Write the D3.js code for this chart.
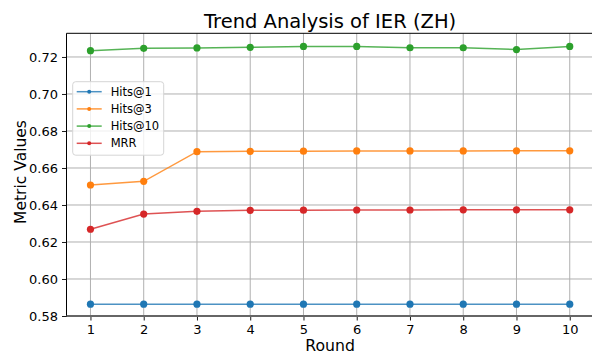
<!DOCTYPE html>
<html>
<head>
<meta charset="utf-8">
<script src="https://cdn.jsdelivr.net/npm/d3@7"></script>
<style>
    body { margin: 0; background: #fff; }
    svg { display: block; font-family: "DejaVu Sans", sans-serif; }
</style>
</head>
<body>
<div id="chart"></div>
<script>
// rounds on the x axis
let rounds = [1, 2, 3, 4, 5, 6, 7, 8, 9, 10];

// metric values
let hits1  = [0.5864, 0.5864, 0.5864, 0.5864, 0.5864, 0.5864, 0.5864, 0.5864, 0.5864, 0.5864];
let hits3  = [0.6508, 0.6528, 0.6688, 0.6690, 0.6691, 0.6692, 0.6692, 0.6692, 0.6693, 0.6693];
let hits10 = [0.7234, 0.7247, 0.7249, 0.7252, 0.7257, 0.7257, 0.7250, 0.7250, 0.7240, 0.7257];
let mrr    = [0.6269, 0.6351, 0.6366, 0.6371, 0.6372, 0.6373, 0.6373, 0.6374, 0.6374, 0.6374];

let seriesNames = ["Hits@1", "Hits@3", "Hits@10", "MRR"];
let seriesColors = ["#1f77b4", "#ff7f0e", "#2ca02c", "#d62728"];
let yTicks = [0.58, 0.60, 0.62, 0.64, 0.66, 0.68, 0.70, 0.72];

let series = [hits1, hits3, hits10, mrr].map((vals, i) => ({
    name: seriesNames[i],
    color: seriesColors[i],
    points: vals.map((v, j) => ({ x: rounds[j], y: v }))
}));

const width = 592, height = 354;
const plot = { left: 66.5, top: 33.3, right: 593.7, bottom: 316 };

var svg = d3.select("#chart")
    .append("svg")
    .attr("width", width)
    .attr("height", height);

var x = d3.scaleLinear().domain([0.55, 10.45]).range([plot.left, plot.right]);
var y = d3.scaleLinear().domain([0.58, 0.7328]).range([plot.bottom, plot.top]);

// grid
const grid = svg.append("g");
grid.selectAll("line.vx")
    .data(rounds)
    .enter()
    .append("line")
    .attr("x1", d => x(d)).attr("x2", d => x(d))
    .attr("y1", plot.top).attr("y2", plot.bottom)
    .style("stroke", "#b0b0b0")
    .style("stroke-width", 1);

grid.selectAll("line.hy")
    .data(yTicks)
    .enter()
    .append("line")
    .attr("x1", plot.left).attr("x2", plot.right)
    .attr("y1", d => y(d)).attr("y2", d => y(d))
    .style("stroke", "#b0b0b0")
    .style("stroke-width", 1);

// lines + markers
const line = d3.line().x(d => x(d.x)).y(d => y(d.y));

series.forEach(s => {
    svg.append("path")
        .datum(s.points)
        .attr("d", line)
        .style("fill", "none")
        .style("stroke", s.color)
        .style("stroke-opacity", 0.8)
        .style("stroke-width", 1.5);

    svg.selectAll(null)
        .data(s.points)
        .enter()
        .append("circle")
        .attr("cx", d => x(d.x))
        .attr("cy", d => y(d.y))
        .attr("r", 3.6)
        .style("fill", s.color);
});

// axes
const xAxis = svg.append("g")
    .attr("transform", "translate(0," + plot.bottom + ")")
    .call(d3.axisBottom(x).tickValues(rounds).tickSize(4.5).tickPadding(4).tickFormat(d3.format("d")));
const yAxis = svg.append("g")
    .attr("transform", "translate(" + plot.left + ",0)")
    .call(d3.axisLeft(y).tickValues(yTicks).tickSize(4.5).tickPadding(4).tickFormat(d3.format(".2f")));

[xAxis, yAxis].forEach(a => {
    a.select(".domain").remove();
    a.selectAll("text").style("font-size", "13px").style("fill", "#000")
        .style("font-family", "'DejaVu Sans', sans-serif");
    a.selectAll("line").style("stroke", "#000").style("stroke-width", 0.9);
});

// spines
svg.append("line")
    .attr("x1", plot.left).attr("x2", plot.right)
    .attr("y1", plot.top).attr("y2", plot.top)
    .style("stroke", "#000").style("stroke-width", 1);
svg.append("line")
    .attr("x1", plot.left).attr("x2", plot.left)
    .attr("y1", plot.top).attr("y2", plot.bottom + 1)
    .style("stroke", "#000").style("stroke-width", 1);
svg.append("line")
    .attr("x1", plot.left).attr("x2", plot.right)
    .attr("y1", plot.bottom).attr("y2", plot.bottom)
    .style("stroke", "#666").style("stroke-width", 2);

// title and labels
const cx = (plot.left + plot.right) / 2;
svg.append("text")
    .attr("x", cx).attr("y", 28)
    .attr("text-anchor", "middle")
    .style("font-size", "19.5px")
    .text("Trend Analysis of IER (ZH)");

svg.append("text")
    .attr("x", cx).attr("y", 351)
    .attr("text-anchor", "middle")
    .style("font-size", "15.7px")
    .text("Round");

svg.append("text")
    .attr("transform", "translate(26,172)rotate(-90)")
    .attr("text-anchor", "middle")
    .style("font-size", "15.5px")
    .text("Metric Values");

// legend
const legend = svg.append("g").attr("transform", "translate(72.7,81.7)");
legend.append("rect")
    .attr("width", 91).attr("height", 73.5)
    .attr("rx", 3)
    .style("fill", "#fff").style("fill-opacity", 0.8)
    .style("stroke", "#d5d5d5").style("stroke-width", 1);

series.forEach((s, i) => {
    const ly = 10 + i * 17.2;
    legend.append("line")
        .attr("x1", 4).attr("x2", 29)
        .attr("y1", ly).attr("y2", ly)
        .style("stroke", s.color).style("stroke-opacity", 0.8).style("stroke-width", 1.5);
    legend.append("circle")
        .attr("cx", 16.5).attr("cy", ly).attr("r", 2)
        .style("fill", s.color);
    legend.append("text")
        .attr("x", 38).attr("y", ly + 4.2)
        .style("font-size", "11.5px")
        .text(s.name);
});
</script>
</body>
</html>
